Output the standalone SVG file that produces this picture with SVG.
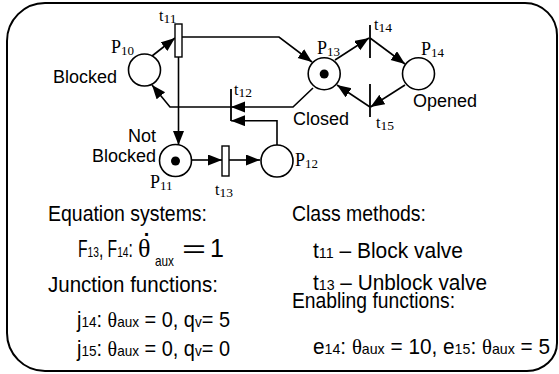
<svg xmlns="http://www.w3.org/2000/svg" width="559" height="374" viewBox="0 0 559 374">
<defs>
<marker id="ah" markerUnits="userSpaceOnUse" markerWidth="15" markerHeight="12" refX="14" refY="5.5" orient="auto">
<path d="M0,0 L14,5.5 L0,11 Z" fill="#000"/>
</marker>
<style>
.ln{fill:none;stroke:#000;stroke-width:1.6}
.pl{fill:#fff;stroke:#000;stroke-width:1.6}
.tr{fill:#fff;stroke:#000;stroke-width:1.4}
.bar{stroke:#000;stroke-width:1.8}
.tok{fill:#000}
.tm{font-family:"Liberation Serif","Times New Roman",serif;fill:#000}
.ar{font-family:"Liberation Sans",Arial,sans-serif;font-size:18px;fill:#000}
.nw{font-family:"Liberation Sans Narrow","Liberation Sans",Arial,sans-serif;fill:#000}
.n22{font-size:22px}
.sm{font-size:15px}
.th{font-family:"Liberation Serif","Times New Roman",serif}
</style>
</defs>
<rect width="559" height="374" fill="#fff"/>
<path d="M45,3 H525 A32,32 0 0 1 557,35 V343 A30,28 0 0 1 527,371 H45 A38,38 0 0 1 7,333 V41 A38,38 0 0 1 45,3 Z" fill="none" stroke="#000" stroke-width="2"/>

<g id="connectors">
<path class="ln" d="M152,56 L175,38" marker-end="url(#ah)"/>
<path class="ln" d="M182,37 H279 L312,62" marker-end="url(#ah)"/>
<path class="ln" d="M178.5,57 V145" marker-end="url(#ah)"/>
<path class="ln" d="M191.5,160 H222" marker-end="url(#ah)"/>
<path class="ln" d="M229,160 H260" marker-end="url(#ah)"/>
<path class="ln" d="M277,145 V120.7 H231" marker-end="url(#ah)"/>
<path class="ln" d="M313,88 L293,107 H231" marker-end="url(#ah)"/>
<path class="ln" d="M231,107 H170 L152,85" marker-end="url(#ah)"/>
<path class="ln" d="M335,60 L369,38" marker-end="url(#ah)"/>
<path class="ln" d="M370,38 L405,64" marker-end="url(#ah)"/>
<path class="ln" d="M405,85 L370.5,107" marker-end="url(#ah)"/>
<path class="ln" d="M370,107 L337,85" marker-end="url(#ah)"/>
</g>

<g id="P10">
<circle class="pl" cx="144.5" cy="70" r="16"/>
<text class="tm" x="111" y="53" font-size="18">P<tspan font-size="13" dy="2">10</tspan></text>
<text class="ar" x="53" y="83">Blocked</text>
</g>
<g id="P11">
<circle class="pl" cx="175.5" cy="160.5" r="16"/>
<circle class="tok" cx="175.5" cy="161" r="4.5"/>
<text class="tm" x="150" y="188" font-size="18">P<tspan font-size="13" dy="2">11</tspan></text>
<text class="ar" x="156" y="142" text-anchor="end">Not</text>
<text class="ar" x="156" y="162" text-anchor="end">Blocked</text>
</g>
<g id="P12">
<circle class="pl" cx="277" cy="161" r="16"/>
<text class="tm" x="295" y="166" font-size="18">P<tspan font-size="13" dy="2">12</tspan></text>
</g>
<g id="P13">
<circle class="pl" cx="324.2" cy="73.7" r="16"/>
<circle class="tok" cx="324.2" cy="74" r="4.5"/>
<text class="tm" x="317" y="54" font-size="18">P<tspan font-size="13" dy="2">13</tspan></text>
<text class="ar" x="293" y="125">Closed</text>
</g>
<g id="P14">
<circle class="pl" cx="418.5" cy="73.7" r="16"/>
<text class="tm" x="421" y="55" font-size="18">P<tspan font-size="13" dy="2">14</tspan></text>
<text class="ar" x="413" y="107">Opened</text>
</g>
<g id="t11">
<rect class="tr" x="175" y="24" width="7" height="33"/>
<text class="tm" x="159" y="21" font-size="16">t<tspan font-size="13.5" dy="2">11</tspan></text>
</g>
<g id="t12">
<line class="bar" x1="231" y1="89" x2="231" y2="121"/>
<text class="tm" x="234" y="95" font-size="16">t<tspan font-size="13.5" dy="2">12</tspan></text>
</g>
<g id="t13">
<rect class="tr" x="222" y="146" width="7" height="30"/>
<text class="tm" x="215" y="195" font-size="16">t<tspan font-size="13.5" dy="2">13</tspan></text>
</g>
<g id="t14">
<line class="bar" x1="370" y1="25" x2="370" y2="58"/>
<text class="tm" x="374" y="30" font-size="16">t<tspan font-size="13.5" dy="2">14</tspan></text>
</g>
<g id="t15">
<line class="bar" x1="370" y1="84" x2="370" y2="117"/>
<text class="tm" x="376" y="128" font-size="16">t<tspan font-size="13.5" dy="2">15</tspan></text>
</g>

<g id="equations">
<text class="nw n22" x="48" y="221" textLength="159" lengthAdjust="spacingAndGlyphs">Equation systems:</text>
<text class="nw" transform="translate(78,257) scale(0.68,1)" style="font-size:23px">F<tspan style="font-size:15px">13</tspan>, F<tspan style="font-size:15px">14</tspan>:</text>
<text class="th" x="138" y="257" style="font-size:26px">θ<tspan class="nw" x="143.7" y="236" style="font-size:20px;font-weight:bold">.</tspan></text>
<text class="nw" x="155" y="266" style="font-size:15px" textLength="19" lengthAdjust="spacingAndGlyphs">aux</text>
<text class="nw" x="182" y="257" style="font-size:24px" textLength="24" lengthAdjust="spacingAndGlyphs">=</text>
<text class="nw" x="210" y="257" style="font-size:25px">1</text>
<text class="nw n22" x="48" y="292" textLength="170" lengthAdjust="spacingAndGlyphs">Junction functions:</text>
<text class="nw n22" x="77" y="327" textLength="153" lengthAdjust="spacingAndGlyphs">j<tspan class="sm">14</tspan>: <tspan class="th">θ</tspan><tspan class="sm">aux</tspan> = 0, q<tspan class="sm">v</tspan>= 5</text>
<text class="nw n22" x="77" y="356" textLength="153" lengthAdjust="spacingAndGlyphs">j<tspan class="sm">15</tspan>: <tspan class="th">θ</tspan><tspan class="sm">aux</tspan> = 0, q<tspan class="sm">v</tspan>= 0</text>
</g>
<g id="methods">
<text class="nw n22" x="292" y="221" textLength="134" lengthAdjust="spacingAndGlyphs">Class methods:</text>
<text class="nw n22" x="313" y="258" textLength="150" lengthAdjust="spacingAndGlyphs">t<tspan class="sm">11</tspan> – Block valve</text>
<text class="nw n22" x="313" y="290" textLength="174" lengthAdjust="spacingAndGlyphs">t<tspan class="sm">13</tspan> – Unblock valve</text>
<text class="nw n22" x="292" y="308" textLength="163" lengthAdjust="spacingAndGlyphs">Enabling functions:</text>
<text class="nw n22" x="313" y="354" textLength="237" lengthAdjust="spacingAndGlyphs">e<tspan class="sm">14</tspan>: <tspan class="th">θ</tspan><tspan class="sm">aux</tspan> = 10, e<tspan class="sm">15</tspan>: <tspan class="th">θ</tspan><tspan class="sm">aux</tspan> = 5</text>
</g>
</svg>
